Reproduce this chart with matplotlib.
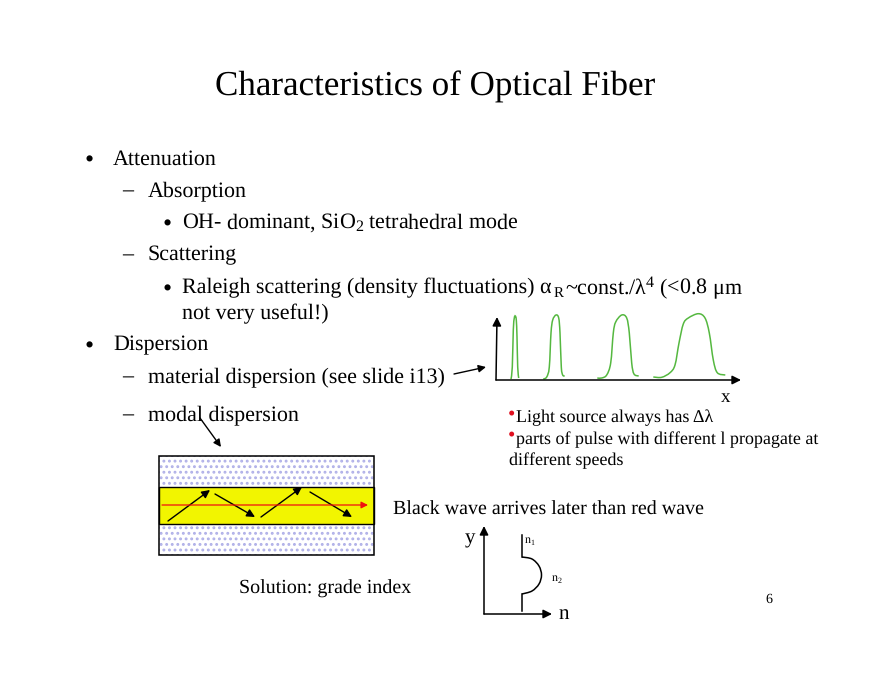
import matplotlib
matplotlib.use("Agg")
import matplotlib.pyplot as plt
from matplotlib.path import Path
from matplotlib.patches import PathPatch, Rectangle, FancyArrowPatch

plt.rcParams['font.family'] = ['Liberation Serif', 'DejaVu Serif']
plt.rcParams['mathtext.default'] = 'regular'
plt.rcParams['hatch.linewidth'] = 1.3
plt.rcParams['text.hinting'] = 'no_hinting'
plt.rcParams['text.hinting_factor'] = 1

TITLE = "Characteristics of Optical Fiber"
BULLETS = [
    (85, 158, "•", 113, "Attenuation"),
    (122, 190, "–", 148, "Absorption"),
    (163, 222, "•", 182, "OH- dominant, SiO$_2$ tetrahedral mode"),
    (122, 254, "–", 148, "Scattering"),
    (163, 287, "•", 182, "Raleigh scattering (density fluctuations) αR~const./λ$^4$ (<0.8 μm"),
    (None, 313, "", 182, "not very useful!)"),
    (85, 344, "•", 113, "Dispersion"),
    (122, 376, "–", 148, "material dispersion (see slide i13)"),
    (122, 414, "–", 148, "modal dispersion"),
]
NOTES = [
    (516, 418, "Light source always has Δλ"),
    (516, 440, "parts of pulse with different l propagate at"),
    (509, 461, "different speeds"),
]
RED_DOTS = [(512, 415), (512, 436)]
CAPTIONS = [
    (393, 510, "Black wave arrives later than red wave"),
    (239, 589, "Solution: grade index"),
]

PULSE_1 = [(511, 379), (512.3, 367), (513.3, 330), (514.3, 318), (515.3, 316), (516.3, 320), (517, 337), (517.7, 367), (518.7, 378)]
PULSE_2 = [(543.3, 379), (546.7, 377), (549.3, 367), (551, 333), (552.7, 320), (556, 315), (558.7, 318), (560, 333), (561.3, 367), (562.7, 375), (564.7, 376)]
PULSE_3 = [(597.3, 378), (601.7, 378), (606.7, 375), (610.7, 363), (613.3, 333), (615.7, 322), (621.7, 315), (626.7, 318), (629.3, 333), (631.7, 363), (634, 374), (638.7, 376)]
PULSE_4 = [(653.3, 377), (661.7, 377.3), (670, 372.7), (675, 365), (679, 343), (683.3, 324), (688.3, 318), (698.3, 313.7), (705, 318), (709.3, 333), (713.3, 360), (717.3, 372.7), (725.3, 375)]
PULSES = [PULSE_1, PULSE_2, PULSE_3, PULSE_4]

INDEX_UPPER = [(522, 535), (522, 557)]
INDEX_LOWER = [(522, 611), (522, 594)]
INDEX_BOW = [(522, 557), (532, 559), (539, 566), (541.5, 575), (539, 584), (532, 591), (522, 594)]

RAYS_BLACK = [
    ((168, 521), (210, 490)), ((215, 494), (255, 517)),
    ((261, 517), (302, 487)), ((310, 492), (352, 517)),
]
RAY_RED = ((162, 505), (368, 505))
AXES_ARROWS = [
    ((496, 380), (497, 317)), ((496, 380), (741, 380)),
    ((484, 614), (484, 526)), ((484, 614), (552, 614)),
]
POINTERS = [
    ((454, 374), (486, 367)), ((200, 418), (221, 447)),
]


def smooth(points):
    """Catmull-Rom curve through the given points as a Bezier path."""
    verts = [points[0]]
    codes = [Path.MOVETO]
    n = len(points)
    for i in range(n - 1):
        p0 = points[max(i - 1, 0)]
        p1 = points[i]
        p2 = points[i + 1]
        p3 = points[min(i + 2, n - 1)]
        verts += [(p1[0] + (p2[0] - p0[0]) / 6, p1[1] + (p2[1] - p0[1]) / 6),
                  (p2[0] - (p3[0] - p1[0]) / 6, p2[1] - (p3[1] - p1[1]) / 6),
                  p2]
        codes += [Path.CURVE4] * 3
    return Path(verts, codes)


def arrow(ax, a, b, color="black", lw=1.1, size=11):
    ax.add_patch(FancyArrowPatch(a, b, arrowstyle="-|>", mutation_scale=size,
                                 color=color, lw=lw, shrinkA=0, shrinkB=0, zorder=4))


fig = plt.figure(figsize=(8.8, 6.8), dpi=100)
ax = fig.add_axes([0, 0, 1, 1])
ax.set_xlim(0, 880)
ax.set_ylim(680, 0)
ax.axis("off")

ax.text(435.5, 87, TITLE, fontsize=25.3, ha="center", va="center")

for bx, y, mark, tx, label in BULLETS:
    if mark == "•":
        ax.text(bx, y + 3, mark, fontsize=19, ha="left", va="center")
    elif mark:
        ax.text(bx, y + 1, mark, fontsize=16, ha="left", va="center")
    yy = y + 1
    if "αR" in label:
        head, tail = label.split("αR")
        ax.text(tx, yy, head + "α", fontsize=16.15, ha="left", va="center")
        ax.text(554, yy + 5, "R", fontsize=10.5, ha="left", va="center")
        ax.text(565, yy, tail, fontsize=16.15, ha="left", va="center")
    else:
        ax.text(tx, yy, label, fontsize=16.15, ha="left", va="center")

for x, y, s in NOTES:
    ax.text(x, y, s, fontsize=12.7, ha="left", va="center")
for x, y in RED_DOTS:
    ax.text(x, y, "•", fontsize=15, color="#e01020", ha="center", va="center")

for x, y, s in CAPTIONS:
    ax.text(x, y, s, fontsize=14.3, ha="left", va="center")

# Waveguide
ax.add_patch(Rectangle((159, 456), 215, 99, fc="white", ec="none", zorder=1))
for y0, h in ((456, 31), (524, 31)):
    ax.add_patch(Rectangle((159, y0), 215, h, fc="white", ec="#b0b0e8", hatch="...", lw=0, zorder=1))
ax.add_patch(Rectangle((159, 487), 215, 37, fc="#f2f500", ec="black", lw=1, zorder=2))
ax.add_patch(Rectangle((159, 456), 215, 99, fc="none", ec="black", lw=1.1, zorder=3))
for a, b in RAYS_BLACK:
    arrow(ax, a, b, lw=1.0, size=12)
arrow(ax, RAY_RED[0], RAY_RED[1], color="#f01010", lw=0.9, size=10)

# Pulses
for p in PULSES:
    ax.add_patch(PathPatch(smooth(p), fc="none", ec="#55b840", lw=1.1, zorder=3))
for a, b in AXES_ARROWS:
    arrow(ax, a, b, lw=1.1, size=13)
for a, b in POINTERS:
    arrow(ax, a, b, lw=1.0, size=11)
ax.text(726, 397, "x", fontsize=14, ha="center", va="center")

# Index profile
for seg in (INDEX_UPPER, INDEX_LOWER):
    ax.plot([p[0] for p in seg], [p[1] for p in seg], color="black", lw=1.1)
ax.add_patch(PathPatch(smooth(INDEX_BOW), fc="none", ec="black", lw=1.1))
ax.text(470, 538, "y", fontsize=15, ha="center", va="center")
ax.text(564, 614, "n", fontsize=15, ha="center", va="center")
ax.text(524, 541, "n$_1$", fontsize=8.5, ha="left", va="center")
ax.text(551, 579, "n$_2$", fontsize=8.5, ha="left", va="center")
ax.text(769, 599, "6", fontsize=10, ha="center", va="center")

fig.savefig("out.png", dpi=100)
